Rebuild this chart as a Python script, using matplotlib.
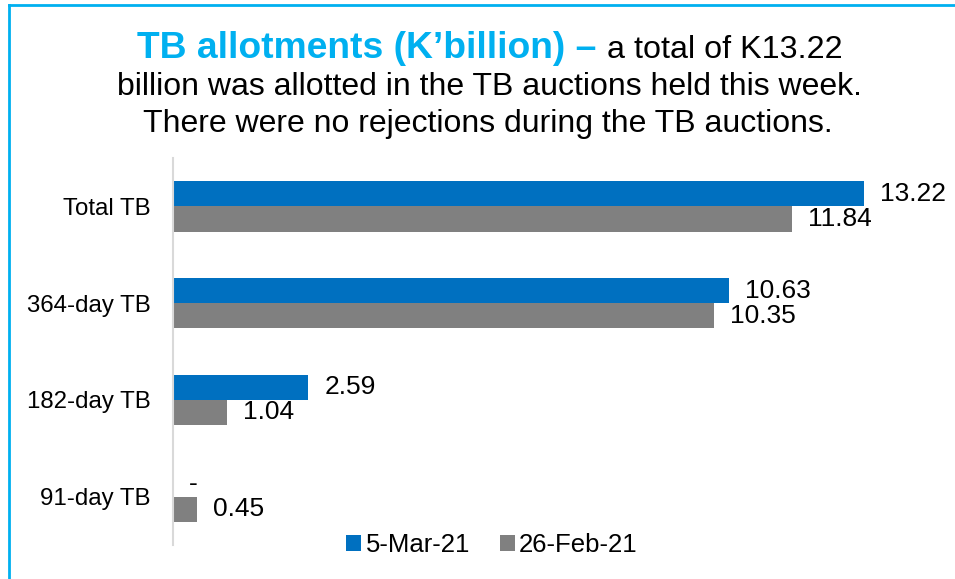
import numpy as np
import matplotlib.pyplot as plt
from matplotlib.lines import Line2D

plt.rcParams['font.family'] = ['Liberation Sans', 'DejaVu Sans']

categories = ['Total TB', '364-day TB', '182-day TB', '91-day TB']
mar5 = [13.22, 10.63, 2.59, 0.0]
feb26 = [11.84, 10.35, 1.04, 0.45]
mar5_labels = ['13.22', '10.63', '2.59', '-']
feb26_labels = ['11.84', '10.35', '1.04', '0.45']
series_names = ['5-Mar-21', '26-Feb-21']

blue = '#0070C0'
gray = '#808080'
title_blue = '#00B0F0'

fig = plt.figure(figsize=(9.55, 5.79), dpi=100)
ax = fig.add_axes([173/955, 1 - 545/579, 760/955, 387/579])

y = np.arange(len(categories))
h = 0.26
ax.barh(y - h/2, mar5, height=h, color=blue, label=series_names[0])
ax.barh(y + h/2, feb26, height=h, color=gray, label=series_names[1])

for i in range(len(categories)):
    ax.annotate(mar5_labels[i], (mar5[i], y[i] - h/2), xytext=(11.5, 0), textcoords='offset points',
                va='center', ha='left', fontsize=19)
    ax.annotate(feb26_labels[i], (feb26[i], y[i] + h/2), xytext=(11.5, 0), textcoords='offset points',
                va='center', ha='left', fontsize=19)

ax.set_xlim(0, 14.53)
ax.set_ylim(len(categories) - 0.5, -0.5)
ax.set_yticks(y)
ax.set_yticklabels(categories, fontsize=17.3)
ax.tick_params(axis='y', length=0, pad=16)
ax.set_xticks([])
for s in ['top', 'right', 'bottom']:
    ax.spines[s].set_visible(False)
ax.spines['left'].set_color('#D9D9D9')
ax.spines['left'].set_linewidth(1.5)

ax.legend(loc='center', bbox_to_anchor=(492/955, 1 - 545/579), bbox_transform=fig.transFigure,
          ncol=2, frameon=False, fontsize=18.5, handlelength=0.58, handleheight=0.58,
          handletextpad=0.18, columnspacing=1.15, borderpad=0, borderaxespad=0)

# title: bold blue part followed by normal text on the first line
fig.canvas.draw()
r = fig.canvas.get_renderer()
t1 = fig.text(0, 1 - 49/579, 'TB allotments (K\u2019billion) \u2013 ', fontsize=26.8, fontweight='bold',
              color=title_blue, va='center', ha='left')
t2 = fig.text(0, 1 - 50/579, 'a total of K13.22', fontsize=23.2, color='black', va='center', ha='left')
w1 = t1.get_window_extent(r).width
w2 = t2.get_window_extent(r).width
x0 = 490 - (w1 + w2) / 2
t1.set_x(x0 / 955)
t2.set_x((x0 + w1) / 955)
fig.text(489/955, 1 - 87/579, 'billion was allotted in the TB auctions held this week.', fontsize=23,
         ha='center', va='center')
fig.text(488/955, 1 - 124/579, 'There were no rejections during the TB auctions.', fontsize=23,
         ha='center', va='center')

# border lines (top and left)
fig.add_artist(Line2D([9/955, 1], [1 - 5/579, 1 - 5/579], color=title_blue, lw=2, transform=fig.transFigure))
fig.add_artist(Line2D([9/955, 9/955], [0, 1 - 5/579], color=title_blue, lw=2, transform=fig.transFigure))

fig.savefig('out.png', dpi=100)
